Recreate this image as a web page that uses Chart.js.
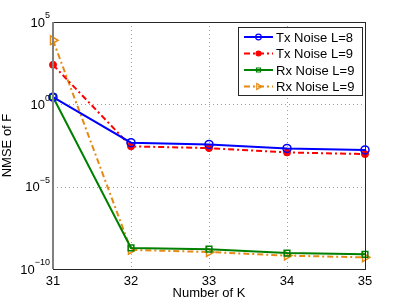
<!DOCTYPE html>
<html>
<head>
<meta charset="utf-8">
<script src="https://cdn.jsdelivr.net/npm/chart.js@4/dist/chart.umd.min.js"></script>
<style>
  body { margin: 0; background: #fff; }
  #wrap { width: 403px; height: 303px; }
</style>
</head>
<body>
<div id="wrap"><canvas id="nmseChart" width="403" height="303"></canvas></div>
<script>
const kValues = ["31", "32", "33", "34", "35"];
const txNoiseL8 = [2.7, 4.7e-3, 3.7e-3, 2.1e-3, 1.7e-3];
const txNoiseL9 = [250, 2.8e-3, 2.2e-3, 1.2e-3, 9.5e-4];
const rxNoiseL9 = [2.8, 1.9e-9, 1.6e-9, 9.3e-10, 7.8e-10];
const rxNoiseL9b = [7800, 1.45e-9, 1.07e-9, 6.5e-10, 5.1e-10];
const yTicks = [1e-10, 1e-5, 1e0, 1e5];
const yTickExp = ["\u221210", "\u22125", "0", "5"];

const FONT = "Liberation Sans, Arial, Helvetica, sans-serif";

// dotted grid drawn from the scales, under the lines
const dottedGrid = {
  id: "dottedGrid",
  beforeDatasetsDraw(chart) {
    const c = chart.ctx;
    const a = chart.chartArea;
    const xs = chart.scales.x;
    const ys = chart.scales.y;
    c.save();
    c.strokeStyle = "#a0a0a0";
    c.lineWidth = 1;
    c.setLineDash([1, 3]);
    kValues.forEach((k, i) => {
      const px = Math.round(xs.getPixelForValue(i)) + 0.5;
      c.beginPath();
      c.moveTo(px, a.top);
      c.lineTo(px, a.bottom);
      c.stroke();
    });
    yTicks.forEach((v) => {
      const py = Math.round(ys.getPixelForValue(v)) + 0.5;
      c.beginPath();
      c.moveTo(a.left, py);
      c.lineTo(a.right, py);
      c.stroke();
    });
    c.restore();
  }
};

// box round the plot, y tick labels with raised exponents, legend inside the plot
const matlabLook = {
  id: "matlabLook",
  afterDraw(chart) {
    const c = chart.ctx;
    const a = chart.chartArea;
    c.save();
    c.strokeStyle = "#262626";
    c.lineWidth = 1;
    c.setLineDash([]);
    c.strokeRect(a.left + 0.5, a.top + 0.5, a.right - a.left, a.bottom - a.top);
    c.strokeStyle = "#808080";
    c.lineWidth = 2;
    c.beginPath();
    c.moveTo(a.left, a.top);
    c.lineTo(a.left, a.bottom);
    c.stroke();

    const ys = chart.scales.y;
    c.fillStyle = "#000";
    c.textBaseline = "middle";
    yTicks.forEach((v, i) => {
      const py = ys.getPixelForValue(v);
      c.font = "9px " + FONT;
      c.textAlign = "right";
      const expW = c.measureText(yTickExp[i]).width;
      c.fillText(yTickExp[i], a.left - 3, py - 6);
      c.font = "13px " + FONT;
      c.fillText("10", a.left - 3 - expW, py + 1);
    });

    // legend
    const lx = 238, ly = 27, lw = 124, lh = 68;
    c.lineWidth = 1;
    c.fillStyle = "#fff";
    c.fillRect(lx, ly, lw, lh);
    c.strokeStyle = "#262626";
    c.strokeRect(lx + 0.5, ly + 0.5, lw, lh);
    chart.data.datasets.forEach((ds, i) => {
      const ry = 37 + i * 16.5;
      c.strokeStyle = ds.borderColor;
      c.lineWidth = ds.borderWidth;
      c.setLineDash(ds.borderDash || []);
      c.beginPath();
      c.moveTo(244, ry);
      c.lineTo(273, ry);
      c.stroke();
      c.setLineDash([]);
      c.strokeStyle = ds.pointBorderColor;
      c.fillStyle = ds.pointBackgroundColor;
      c.lineWidth = 1.2;
      Chart.helpers.drawPoint(c, {
        pointStyle: ds.pointStyle,
        radius: ds.pointRadius * 0.7,
        rotation: ds.pointRotation || 0,
        borderWidth: 1.2
      }, 258.5, ry);
      c.fillStyle = "#000";
      c.font = "13px " + FONT;
      c.textAlign = "left";
      c.fillText(ds.label, 276, ry + 1);
    });
    c.restore();
  }
};

const ctx = document.getElementById("nmseChart").getContext("2d");
new Chart(ctx, {
  type: "line",
  data: {
    labels: kValues,
    datasets: [
      {
        label: "Tx Noise L=8",
        data: txNoiseL8,
        borderColor: "#0000ff",
        backgroundColor: "rgba(0,0,0,0)",
        borderWidth: 2,
        pointStyle: "circle",
        pointRadius: 4,
        pointBorderWidth: 1.5,
        pointBorderColor: "#0000ff",
        pointBackgroundColor: "rgba(0,0,0,0)",
      },
      {
        label: "Tx Noise L=9",
        data: txNoiseL9,
        borderColor: "#ff0000",
        backgroundColor: "#ff0000",
        borderWidth: 2,
        borderDash: [6, 3, 2, 3],
        pointStyle: "circle",
        pointRadius: 3.5,
        pointBorderWidth: 1,
        pointBorderColor: "#ff0000",
        pointBackgroundColor: "#ff0000",
      },
      {
        label: "Rx Noise L=9",
        data: rxNoiseL9,
        borderColor: "#008000",
        backgroundColor: "rgba(0,0,0,0)",
        borderWidth: 2,
        pointStyle: "rect",
        pointRadius: 4,
        pointBorderWidth: 1.5,
        pointBorderColor: "#008000",
        pointBackgroundColor: "rgba(0,0,0,0)",
      },
      {
        label: "Rx Noise L=9",
        data: rxNoiseL9b,
        borderColor: "#e68a14",
        backgroundColor: "rgba(0,0,0,0)",
        borderWidth: 2,
        borderDash: [6, 3, 2, 3],
        pointStyle: "triangle",
        pointRotation: 90,
        pointRadius: 5,
        pointBorderWidth: 1.5,
        pointBorderColor: "#e68a14",
        pointBackgroundColor: "rgba(0,0,0,0)",
      },
    ],
  },
  options: {
    responsive: false,
    animation: false,
    devicePixelRatio: 1,
    layout: { padding: { left: 0, right: 38, top: 22, bottom: 0 } },
    plugins: {
      legend: { display: false },
      tooltip: { enabled: false },
    },
    scales: {
      x: {
        type: "category",
        offset: false,
        grid: { display: false, drawTicks: false },
        border: { display: false },
        ticks: {
          color: "#000",
          font: { family: FONT, size: 13 },
          padding: 5,
          maxRotation: 0,
        },
        title: {
          display: true,
          text: "Number of K",
          color: "#000",
          font: { family: FONT, size: 13 },
          padding: { top: 0, bottom: 2 },
        },
        afterFit(scale) { scale.height = 34; },
      },
      y: {
        type: "logarithmic",
        min: 1e-10,
        max: 1e5,
        afterBuildTicks(scale) {
          scale.ticks = yTicks.map((v) => ({ value: v }));
        },
        grid: { display: false, drawTicks: false },
        border: { display: false },
        ticks: { display: false },
        title: {
          display: true,
          text: "NMSE of F",
          color: "#000",
          font: { family: FONT, size: 13 },
          padding: { top: 0, bottom: 0 },
        },
        afterFit(scale) { scale.width = 53; },
      },
    },
  },
  plugins: [dottedGrid, matlabLook],
});
</script>
</body>
</html>
